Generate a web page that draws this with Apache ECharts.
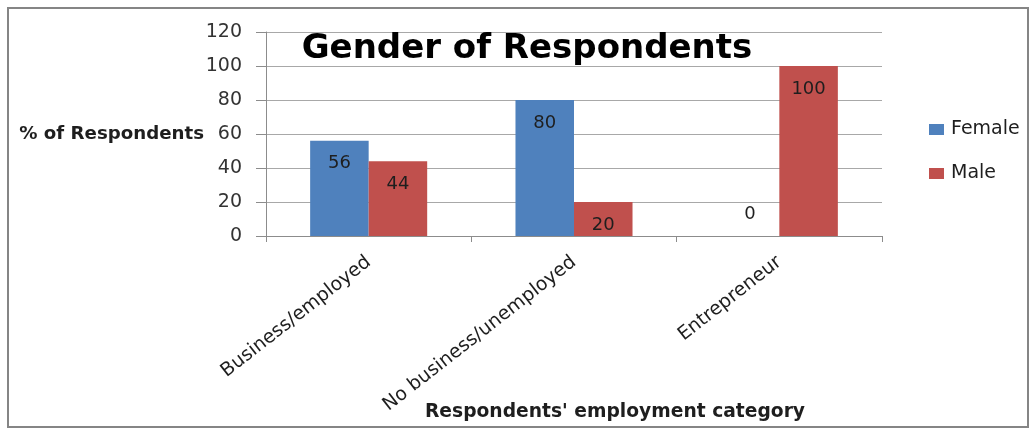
<!DOCTYPE html>
<html>
<head>
<meta charset="utf-8">
<script src="https://cdn.jsdelivr.net/npm/echarts@6/dist/echarts.min.js"></script>
<style>
  html, body { margin: 0; padding: 0; background: #fff; }
  #chart { width: 1032px; height: 430px; }
</style>
</head>
<body>
<div id="chart"></div>
<script>
// Employment categories and share of respondents (%) by gender
const categories = ['Business/employed', 'No business/unemployed', 'Entrepreneur'];
const female = [56, 80, 0];
const male = [44, 20, 100];
const yTicks = { min: 0, max: 120, interval: 20 };

const FONT = '"DejaVu Sans", sans-serif';
const TEXT = '#1e1e1e';

function barSeries(name, values, color) {
  return {
    name: name,
    type: 'bar',
    barGap: '0%',
    barCategoryGap: '43%',
    itemStyle: { color: color },
    data: values.map(v => ({
      value: v,
      label: v === 0
        ? { position: 'insideBottom', distance: 13 }
        : { position: 'insideTop', distance: 14 }
    })),
    label: {
      show: true,
      color: TEXT,
      fontFamily: FONT,
      fontSize: 18
    }
  };
}

const chart = echarts.init(document.getElementById('chart'), null, { renderer: 'canvas' });
chart.setOption({
  animation: false,
  backgroundColor: '#fff',
  title: {
    text: 'Gender of Respondents',
    left: 522,
    top: 27,
    textAlign: 'center',
    textStyle: { fontFamily: FONT, fontWeight: 'bold', fontSize: 34, color: '#000' }
  },
  legend: {
    orient: 'vertical',
    left: 924,
    top: 115,
    itemWidth: 15,
    itemHeight: 11,
    itemGap: 25,
    icon: 'rect',
    textStyle: { fontFamily: FONT, fontSize: 19, color: TEXT, padding: [0, 0, 0, 2] },
    data: ['Female', 'Male']
  },
  grid: { left: 266, right: 150, top: 32, bottom: 194, containLabel: false },
  xAxis: {
    type: 'category',
    data: categories,
    axisLine: { lineStyle: { color: '#8c8c8c', width: 1 } },
    axisTick: { show: true, length: 6, lineStyle: { color: '#8c8c8c' } },
    axisLabel: {
      rotate: 38,
      margin: 24,
      fontFamily: FONT,
      fontSize: 19,
      color: TEXT,
      interval: 0
    }
  },
  yAxis: {
    type: 'value',
    min: yTicks.min,
    max: yTicks.max,
    interval: yTicks.interval,
    name: '% of Respondents',
    nameLocation: 'middle',
    nameRotate: 0,
    nameGap: 62,
    nameMoveOverlap: false,
    nameTextStyle: { fontFamily: FONT, fontWeight: 'bold', fontSize: 18.2, color: TEXT, align: 'right', verticalAlign: 'middle' },
    axisLine: { show: true, lineStyle: { color: '#8c8c8c', width: 1 } },
    axisTick: { show: true, length: 10, lineStyle: { color: '#8c8c8c' } },
    axisLabel: { margin: 24, fontFamily: FONT, fontSize: 19, color: '#333' },
    splitLine: { show: true, lineStyle: { color: '#a8a8a8', width: 1 } }
  },
  series: [
    barSeries('Female', female, '#4f81bd'),
    barSeries('Male', male, '#c0504d')
  ],
  graphic: [
    {
      type: 'rect',
      shape: { x: 8, y: 8, width: 1020, height: 419 },
      style: { fill: 'none', stroke: '#858585', lineWidth: 2 },
      silent: true
    },
    {
      type: 'text',
      x: 615,
      y: 412,
      style: {
        text: "Respondents' employment category",
        fontFamily: FONT,
        fontWeight: 'bold',
        fontSize: 18.7,
        fill: TEXT,
        textAlign: 'center',
        textVerticalAlign: 'middle'
      }
    }
  ]
});
</script>
</body>
</html>
